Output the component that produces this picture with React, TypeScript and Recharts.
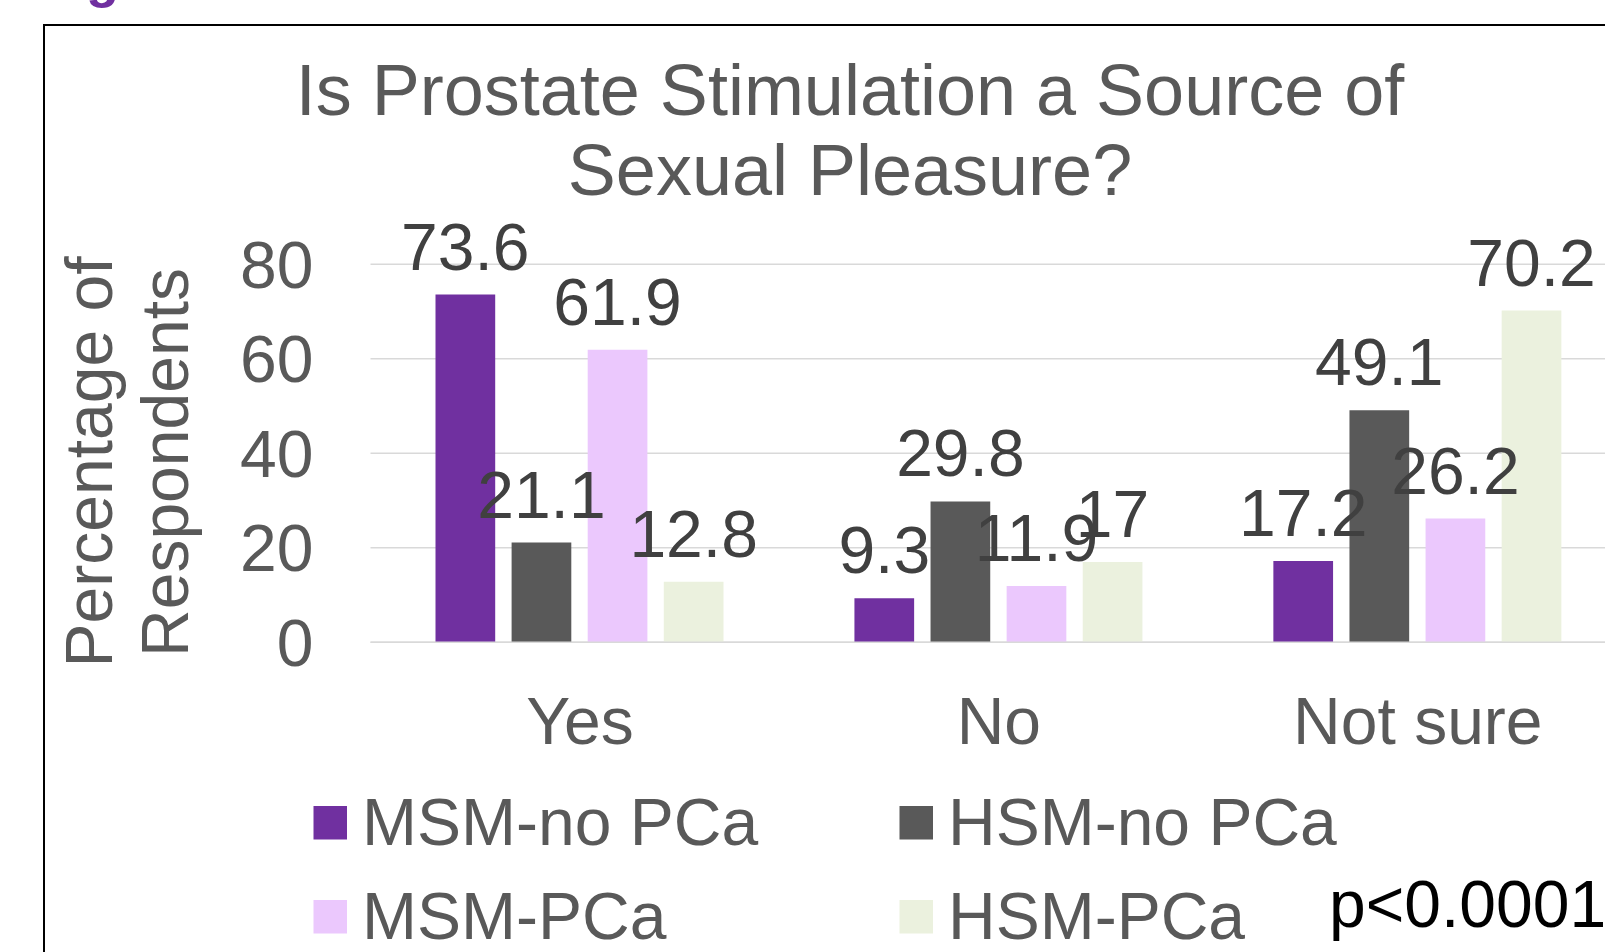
import React from 'react';
import { BarChart, Bar, XAxis, YAxis, CartesianGrid, LabelList, Legend } from 'recharts';

const categories = ['Yes', 'No', 'Not sure'];
const msmNoPCa = [73.6, 9.3, 17.2];
const hsmNoPCa = [21.1, 29.8, 49.1];
const msmPCa = [61.9, 11.9, 26.2];
const hsmPCa = [12.8, 17, 70.2];
const yTicks = [0, 20, 40, 60, 80];
const seriesNames = ['MSM-no PCa', 'HSM-no PCa', 'MSM-PCa', 'HSM-PCa'];
const seriesKeys = ['s0', 's1', 's2', 's3'];
const seriesColors = ['#7030A0', '#595959', '#EBC8FD', '#EBF1DE'];
const titleLines = ['Is Prostate Stimulation a Source of', 'Sexual Pleasure?'];
const yTitleLines = ['Percentage of', 'Respondents'];
const pValue = 'p<0.0001';

const data = categories.map((c, i) => ({
  category: c,
  s0: msmNoPCa[i],
  s1: hsmNoPCa[i],
  s2: msmPCa[i],
  s3: hsmPCa[i],
}));

const FONT = '"Liberation Sans", Arial, sans-serif';
const TEXT = '#595959';

const LegendContent = (props: any) => {
  const raw = props.payload || [];
  const payload = [...raw].sort(
    (a: any, b: any) => seriesNames.indexOf(a.value) - seriesNames.indexOf(b.value)
  );
  const colX = [313.5, 899.5];
  const rowY = [806, 900];
  return (
    <svg
      width={1605}
      height={952}
      style={{ position: 'absolute', left: 0, top: 0, overflow: 'visible', pointerEvents: 'none' }}
    >
      {payload.map((p: any, i: number) => {
        const col = i % 2;
        const row = Math.floor(i / 2);
        const x = colX[col];
        const y = rowY[row];
        return (
          <g key={i}>
            <rect x={x} y={y} width={33.5} height={33.5} fill={p.color} />
            <text x={x + 48.5} y={y + 39} fontSize={66} fill={TEXT} fontFamily={FONT}>
              {p.value}
            </text>
          </g>
        );
      })}
    </svg>
  );
};

export default function App() {
  const W = 1700;
  const H = 952;
  const plotTop = 264.3;
  const plotBottom = 642.3;
  const plotLeft = 370.5;
  const plotRight = 1627.3;
  const xAxisH = 80;
  return (
    <div
      style={{
        position: 'absolute',
        left: 0,
        top: 0,
        width: 1605,
        height: 952,
        overflow: 'hidden',
        background: '#ffffff',
        fontFamily: FONT,
      }}
    >
      <BarChart
        width={W}
        height={H}
        data={data}
        margin={{ top: plotTop, right: W - plotRight, left: 0, bottom: H - plotBottom - xAxisH }}
        barGap={16.4}
      >
        <CartesianGrid vertical={false} stroke="#D9D9D9" strokeWidth={1.5} />
        <XAxis
          dataKey="category"
          interval={0}
          tickLine={false}
          axisLine={{ stroke: '#D9D9D9', strokeWidth: 1.5 }}
          tickSize={0}
          tickMargin={55}
          height={xAxisH}
          tick={{ fontSize: 66, fill: TEXT, fontFamily: FONT }}
        />
        <YAxis
          domain={[0, 80]}
          ticks={yTicks}
          width={plotLeft}
          tickLine={false}
          axisLine={false}
          tickSize={0}
          tickMargin={57}
          tick={{ fontSize: 66, fill: TEXT, fontFamily: FONT }}
        />
        <Legend
          layout="vertical"
          align="center"
          verticalAlign="middle"
          itemSorter={null as any}
          content={LegendContent}
          wrapperStyle={{ left: 0, top: 0, width: 0, height: 0, overflow: 'visible' }}
        />
        {seriesKeys.map((k, i) => (
          <Bar
            key={k}
            dataKey={k}
            name={seriesNames[i]}
            fill={seriesColors[i]}
            barSize={59.7}
            isAnimationActive={false}
          >
            <LabelList
              dataKey={k}
              position="top"
              offset={25}
              fill="#404040"
              fontSize={66}
              fontFamily={FONT}
            />
          </Bar>
        ))}
      </BarChart>
      <svg
        width={1605}
        height={952}
        style={{ position: 'absolute', left: 0, top: 0, pointerEvents: 'none' }}
      >
        <text x={86} y={-3} fontSize={54} fontWeight="bold" fill="#7030A0" fontFamily={FONT}>
          g
        </text>
        <rect x={44} y={25} width={1700} height={1000} fill="none" stroke="#000000" strokeWidth={2} />
        <text x={850} y={114.5} fontSize={72} fill={TEXT} fontFamily={FONT} textAnchor="middle">
          {titleLines[0]}
        </text>
        <text x={850} y={194.5} fontSize={72} fill={TEXT} fontFamily={FONT} textAnchor="middle">
          {titleLines[1]}
        </text>
        <text
          x={112}
          y={462}
          fontSize={66}
          fill={TEXT}
          fontFamily={FONT}
          textAnchor="middle"
          transform="rotate(-90 112 462)"
        >
          {yTitleLines[0]}
        </text>
        <text
          x={188.3}
          y={462.5}
          fontSize={66}
          fill={TEXT}
          fontFamily={FONT}
          textAnchor="middle"
          transform="rotate(-90 188.3 462.5)"
        >
          {yTitleLines[1]}
        </text>
        <text x={1329} y={927} fontSize={66} fill="#000000" fontFamily={FONT}>
          {pValue}
        </text>
      </svg>
    </div>
  );
}
